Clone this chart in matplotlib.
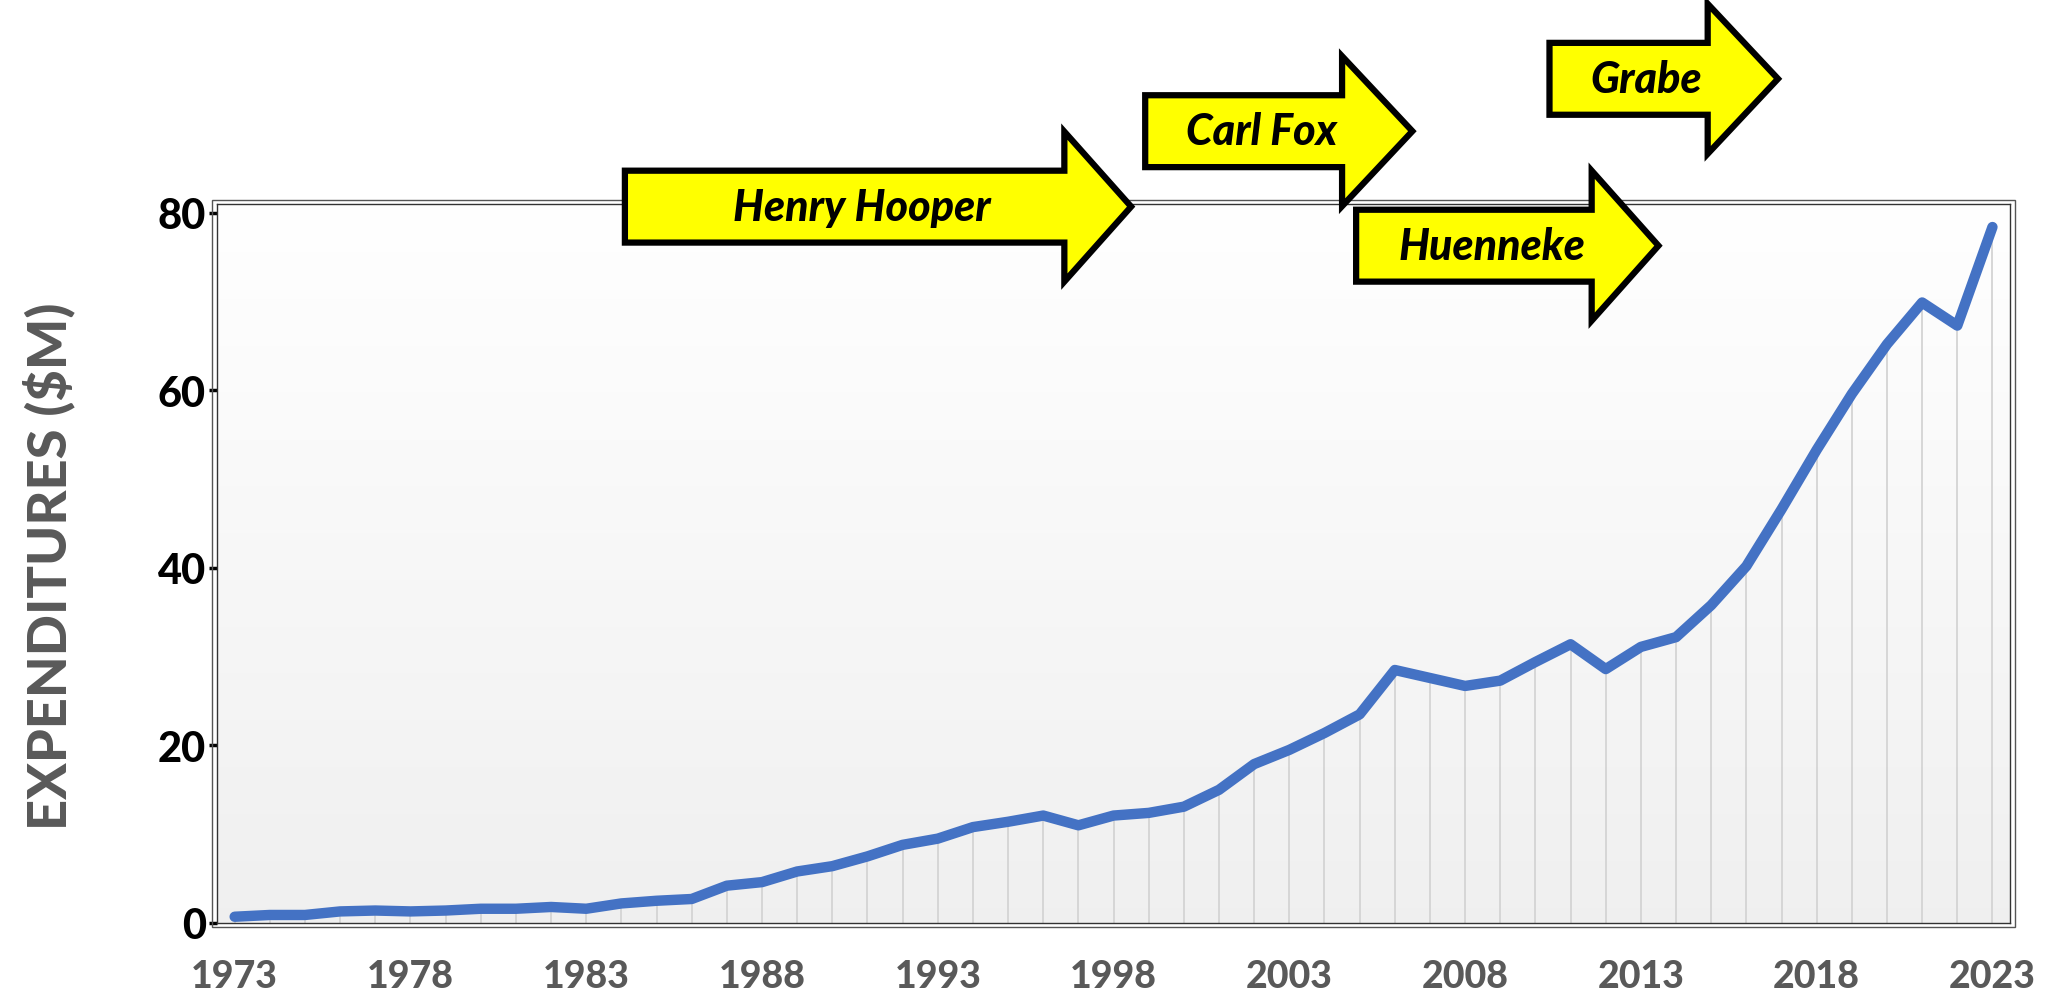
import matplotlib.pyplot as plt
import numpy as np
from matplotlib.patches import Polygon, Rectangle

plt.rcParams['font.family'] = ['Lato', 'DejaVu Sans']

years = list(range(1973, 2024))
spend = [0.7, 0.9, 0.9, 1.3, 1.4, 1.3, 1.4, 1.6, 1.6, 1.8,
         1.6, 2.2, 2.5, 2.7, 4.2, 4.6, 5.8, 6.4, 7.5, 8.8,
         9.5, 10.8, 11.4, 12.1, 11.0, 12.1, 12.4, 13.1, 15.0, 17.9,
         19.5, 21.4, 23.5, 28.5, 27.6, 26.7, 27.3, 29.4, 31.4, 28.6,
         31.1, 32.2, 35.8, 40.2, 46.6, 53.3, 59.6, 65.2, 69.9, 67.3,
         78.4]
xtick_years = list(range(1973, 2024, 5))
ytick_vals = [0, 20, 40, 60, 80]

# directors: name, arrow start, body end, tip (years), centre height ($M)
names = ['Henry Hooper', 'Carl Fox', 'Huenneke', 'Grabe']
arrow_start = [1984.1, 1998.9, 2004.9, 2010.4]
arrow_body_end = [1996.6, 2004.5, 2011.6, 2014.9]
arrow_tip = [1998.5, 2006.5, 2013.5, 2016.9]
arrow_y = [80.7, 89.2, 76.3, 95.1]

fig = plt.figure(figsize=(20.5, 9.95), dpi=100)
ax = fig.add_axes([0.1059, 0.0714, 0.8746, 0.7226])

x0, x1 = 1972.5, 2023.5
y0, y1 = 0, 81
ax.set_xlim(x0, x1)
ax.set_ylim(y0, y1)

# background gradient (white at top, light gray at bottom)
grad = np.linspace(1.0, 0.94, 256).reshape(-1, 1)
ax.imshow(np.dstack([grad, grad, grad]), extent=[x0, x1, y0, y1],
          aspect='auto', origin='upper', zorder=0)

# drop lines from each point
ax.vlines(years, 0, spend, colors='#d4d4d4', linewidth=1.3, zorder=1)
ax.plot(years, spend, color='#4472C4', linewidth=7.5, solid_capstyle='round',
        solid_joinstyle='round', zorder=3)

ax.set_xticks(xtick_years)
ax.set_xticklabels([str(y) for y in xtick_years])
ax.set_yticks(ytick_vals)
ax.tick_params(axis='x', length=0, pad=26, labelsize=27, labelcolor='#595959')
ax.tick_params(axis='y', length=6, width=2.5, pad=2, labelsize=30, labelcolor='black')
for lab in ax.get_xticklabels() + ax.get_yticklabels():
    lab.set_fontweight('black')

for s in ax.spines.values():
    s.set_color('#333333')
    s.set_linewidth(1.0)
# outer line of the double frame
ax.add_patch(Rectangle((-0.003, -0.006), 1.006, 1.012, transform=ax.transAxes,
                       fill=False, edgecolor='#555555', linewidth=1.0, clip_on=False, zorder=5))

fig.text(0.024, 0.431, 'EXPENDITURES ($M)', rotation=90, ha='center', va='center',
         fontsize=39, fontweight='black', color='#595959')

# director arrows
hb, hh = 4.05, 8.45
for name, a, b, c, yc in zip(names, arrow_start, arrow_body_end, arrow_tip, arrow_y):
    pts = [(a, yc - hb), (a, yc + hb), (b, yc + hb), (b, yc + hh), (c, yc),
           (b, yc - hh), (b, yc - hb)]
    ax.add_patch(Polygon(pts, closed=True, facecolor='#FFFF00', edgecolor='black',
                         linewidth=4.5, joinstyle='miter', clip_on=False, zorder=6))
    ax.text((a + b) / 2 + 0.5, yc, name, ha='center', va='center', fontsize=31,
            fontweight='black', fontstyle='italic', color='black', zorder=7, clip_on=False)

fig.savefig('out.png', dpi=100)
